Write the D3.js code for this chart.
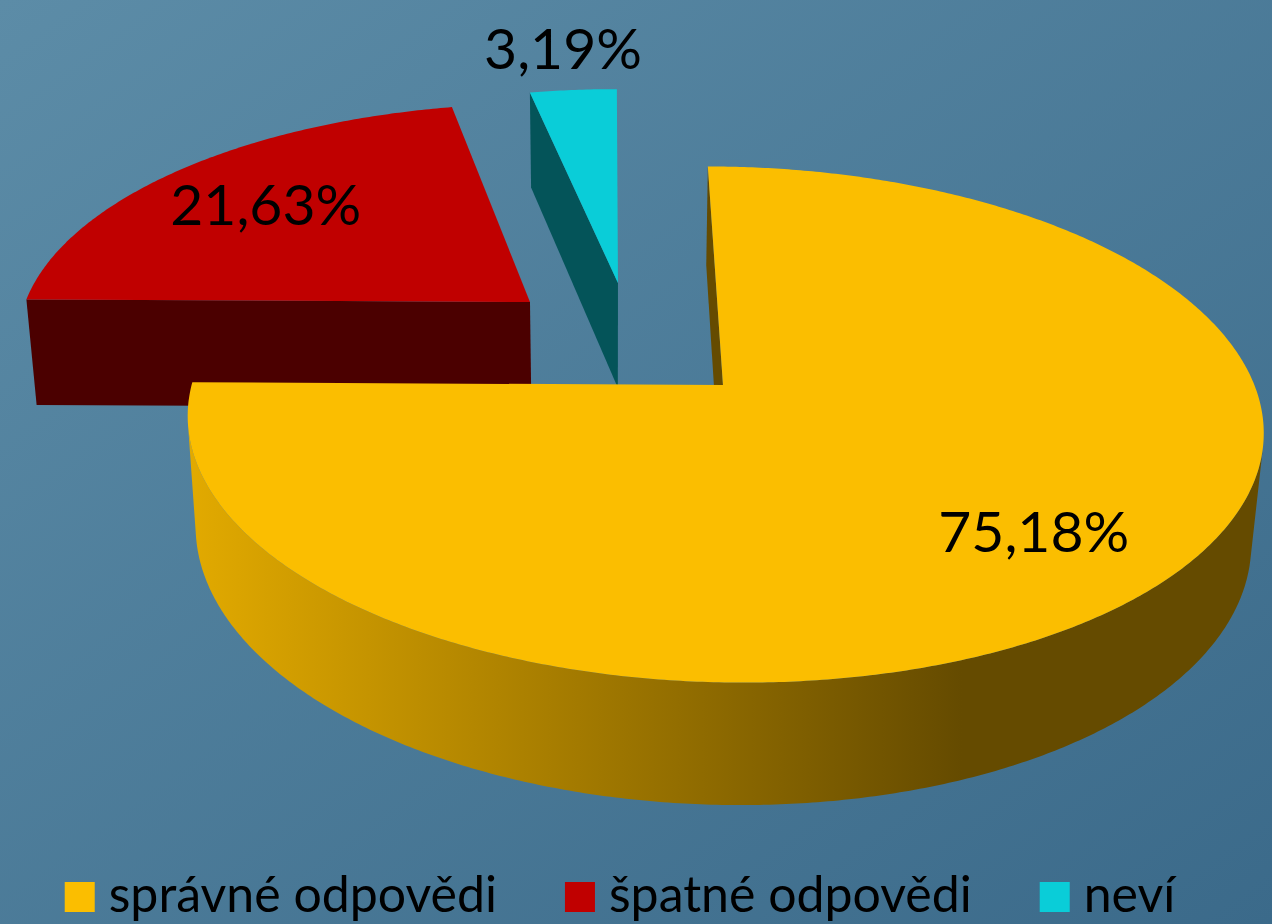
<!DOCTYPE html>
<html lang="cs">
<head>
<meta charset="UTF-8">
<title>odpovědi</title>
<script src="https://cdn.jsdelivr.net/npm/d3@7"></script>
<style>
  html, body { margin: 0; padding: 0; background: #4b7b98; }
  svg { display: block; }
</style>
</head>
<body>
<div id="wrapper"></div>
<script>
const categories = ["správné odpovědi", "špatné odpovědi", "neví"];
const values = [75.18, 21.63, 3.19];
const valueLabels = ["75,18%", "21,63%", "3,19%"];
const topColors = ["#FBBE00", "#C00000", "#0ACDD8"];
const wallLight = ["#E2AA00", "#9A0000", "#08A9B2"];
const wallDark = ["#654B00", "#4B0000", "#045459"];

const width = 1272, height = 924;
// 3d view, pie radius = 1
const view = { ox: 609, oy: 332, f: 3082, dist: 5.993, tilt: 27.32 * Math.PI / 180, thick: 0.2386 };
// how far each slice is pulled out (x right, y away from viewer)
const explode = [[0.2145, -0.2174], [-0.1566, 0.1295], [0.018, 0.2142]];

const sn = Math.sin(view.tilt), cs = Math.cos(view.tilt);
const cam = [0, -view.dist * cs, view.dist * sn];
function project([x, y, z]) {
  const depth = view.dist + y * cs - z * sn;
  const up = y * sn + z * cs;
  return [view.ox + view.f * x / depth, view.oy - view.f * up / depth];
}
const rim = (c, a, z) => [c[0] + Math.sin(a), c[1] + Math.cos(a), z];
const line = d3.line();
const poly = pts => line(pts.map(project)) + "Z";

const svg = d3.select("#wrapper").append("svg")
  .attr("width", width).attr("height", height);
const defs = svg.append("defs");

const bg = defs.append("linearGradient").attr("id", "bg")
  .attr("x1", 0).attr("y1", 0).attr("x2", 1).attr("y2", 1);
bg.append("stop").attr("offset", 0).attr("stop-color", "#5C8CA7");
bg.append("stop").attr("offset", 1).attr("stop-color", "#3B6A8A");
svg.append("rect").attr("width", width).attr("height", height).attr("fill", "url(#bg)");

values.forEach((v, i) => {
  const g = defs.append("linearGradient").attr("id", "wall" + i)
    .attr("x1", 0).attr("y1", 0).attr("x2", 1).attr("y2", 0);
  g.append("stop").attr("offset", 0).attr("stop-color", wallLight[i]);
  g.append("stop").attr("offset", 0.72).attr("stop-color", wallDark[i]);
});

const arcs = d3.pie().sort(null).value(d => d)(values);
arcs.forEach((d, i) => { d.i = i; d.c = explode[i]; });

const H = view.thick;
const chart = svg.append("g");

// back slices first
const order = arcs.slice().sort((a, b) => b.c[1] - a.c[1]);
order.forEach(d => {
  const i = d.i, c = d.c;
  const g = chart.append("g");
  const steps = Math.max(2, Math.ceil((d.endAngle - d.startAngle) / (Math.PI / 360)));
  const angles = d3.range(steps + 1).map(k => d.startAngle + (d.endAngle - d.startAngle) * k / steps);

  // flat side walls
  const edges = [
    { a: d.startAngle, n: [-Math.cos(d.startAngle), Math.sin(d.startAngle)] },
    { a: d.endAngle, n: [Math.cos(d.endAngle), -Math.sin(d.endAngle)] }
  ];
  edges.forEach(e => {
    const facing = (cam[0] - c[0]) * e.n[0] + (cam[1] - c[1]) * e.n[1];
    if (facing <= 0) return;
    g.append("path")
      .attr("d", poly([[c[0], c[1], 0], rim(c, e.a, 0), rim(c, e.a, -H), [c[0], c[1], -H]]))
      .attr("fill", wallDark[i]);
  });

  // curved outer wall, only where it faces the camera
  const vis = angles.map(a => {
    const p = rim(c, a, 0);
    return (cam[0] - p[0]) * Math.sin(a) + (cam[1] - p[1]) * Math.cos(a) > 0;
  });
  let run = [];
  const runs = [];
  angles.forEach((a, k) => {
    if (vis[k]) run.push(a);
    else if (run.length) { runs.push(run); run = []; }
  });
  if (run.length) runs.push(run);
  runs.filter(r => r.length > 1).forEach(r => {
    const pts = r.map(a => rim(c, a, 0)).concat(r.slice().reverse().map(a => rim(c, a, -H)));
    g.append("path").attr("d", poly(pts)).attr("fill", `url(#wall${i})`);
  });

  // top face
  const top = [[c[0], c[1], 0]].concat(angles.map(a => rim(c, a, 0)));
  g.append("path").attr("d", poly(top)).attr("fill", topColors[i]);
});

// value labels, small slices get theirs outside
const labelR = d => (d.endAngle - d.startAngle) < 0.4 ? 1.27 : 0.74;
svg.append("g").selectAll("text").data(arcs).join("text")
  .attr("transform", d => {
    const mid = (d.startAngle + d.endAngle) / 2;
    const r = labelR(d);
    const p = project([d.c[0] + r * Math.sin(mid), d.c[1] + r * Math.cos(mid), 0]);
    return `translate(${p[0]},${p[1]})`;
  })
  .attr("text-anchor", "middle")
  .attr("dy", "0.4em")
  .attr("font-family", "Lato, 'Open Sans', sans-serif")
  .attr("font-size", 57)
  .attr("fill", "#000")
  .text(d => valueLabels[d.i]);

// legend
const legend = svg.append("g");
const items = legend.selectAll("g").data(categories).join("g");
items.append("rect")
  .attr("y", 882).attr("width", 30).attr("height", 30)
  .attr("fill", (d, i) => topColors[i]);
items.append("text")
  .attr("x", 44).attr("y", 912)
  .attr("font-family", "Lato, 'Open Sans', sans-serif")
  .attr("font-size", 50)
  .attr("fill", "#000")
  .text(d => d);
let x = 0;
const offs = [];
items.each(function () {
  offs.push(x);
  x += 44 + d3.select(this).select("text").node().getComputedTextLength() + 68;
});
const total = x - 68;
const start = 620 - total / 2;
items.attr("transform", (d, i) => `translate(${start + offs[i]},0)`);
</script>
</body>
</html>
